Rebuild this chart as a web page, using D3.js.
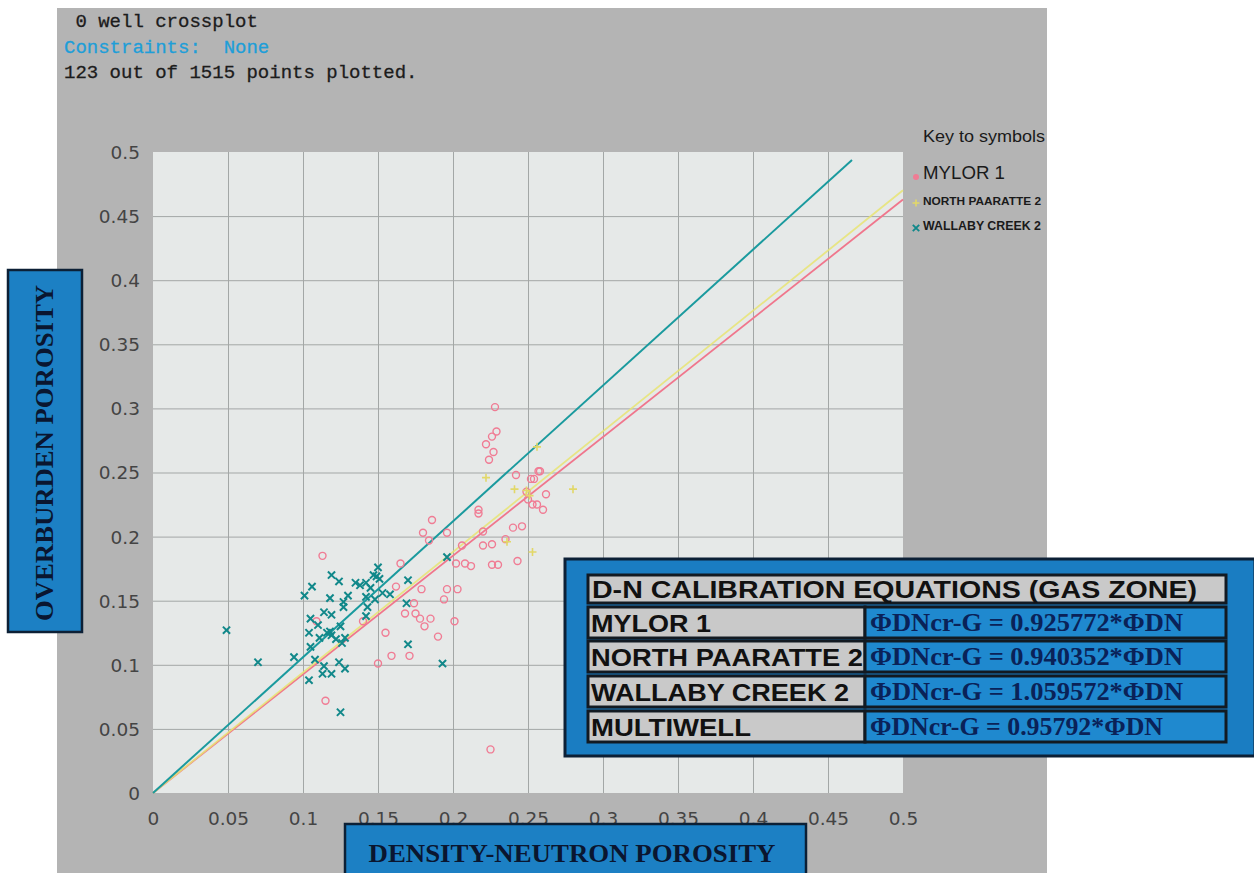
<!DOCTYPE html>
<html>
<head>
<meta charset="utf-8">
<script src="https://cdn.jsdelivr.net/npm/d3@7"></script>
<style>
  html, body { margin: 0; padding: 0; background: #ffffff; }
  svg { display: block; }
</style>
</head>
<body>
<svg id="chart" width="1254" height="873"></svg>
<script>
// ---- data ----
const headerLines = [" 0 well crossplot", "Constraints:  None", "123 out of 1515 points plotted."];

const xTickValues = [0, 0.05, 0.1, 0.15, 0.2, 0.25, 0.3, 0.35, 0.4, 0.45, 0.5];
const xTickLabels = ["0", "0.05", "0.1", "0.15", "0.2", "0.25", "0.3", "0.35", "0.4", "0.45", "0.5"];
const yTickValues = [0, 0.05, 0.1, 0.15, 0.2, 0.25, 0.3, 0.35, 0.4, 0.45, 0.5];
const yTickLabels = ["0", "0.05", "0.1", "0.15", "0.2", "0.25", "0.3", "0.35", "0.4", "0.45", "0.5"];

// density-neutron porosity, overburden porosity
const mylor1 = [
  [0.113,0.185],[0.109,0.134],[0.115,0.072],[0.140,0.134],[0.155,0.125],[0.159,0.107],
  [0.150,0.101],[0.171,0.107],[0.162,0.161],[0.165,0.179],[0.174,0.148],[0.168,0.140],
  [0.175,0.140],[0.178,0.136],[0.185,0.136],[0.181,0.130],[0.190,0.122],[0.179,0.159],
  [0.180,0.203],[0.184,0.197],[0.196,0.203],[0.196,0.159],[0.194,0.151],[0.203,0.159],
  [0.201,0.134],[0.202,0.179],[0.208,0.179],[0.212,0.177],[0.206,0.193],[0.226,0.178],
  [0.230,0.178],[0.243,0.181],[0.225,0.034],[0.228,0.301],[0.229,0.282],[0.226,0.278],
  [0.222,0.272],[0.227,0.266],[0.224,0.260],[0.242,0.248],[0.252,0.245],[0.254,0.245],
  [0.257,0.251],[0.258,0.251],[0.249,0.235],[0.262,0.233],[0.250,0.229],[0.253,0.225],
  [0.256,0.225],[0.260,0.221],[0.217,0.221],[0.217,0.218],[0.186,0.213],[0.220,0.204],
  [0.240,0.207],[0.246,0.208],[0.235,0.198],[0.220,0.193],[0.226,0.194]
];
const northPaaratte2 = [
  [0.256,0.270],[0.222,0.246],[0.241,0.237],[0.280,0.237],[0.249,0.236],[0.251,0.232],
  [0.236,0.196],[0.253,0.188]
];
const wallabyCreek2 = [
  [0.049,0.127],[0.070,0.102],[0.094,0.106],[0.101,0.154],[0.106,0.161],[0.119,0.170],
  [0.124,0.165],[0.118,0.152],[0.127,0.149],[0.127,0.145],[0.130,0.154],[0.114,0.141],
  [0.119,0.139],[0.105,0.136],[0.110,0.131],[0.104,0.125],[0.116,0.125],[0.118,0.126],
  [0.119,0.123],[0.111,0.121],[0.122,0.120],[0.125,0.130],[0.128,0.121],[0.126,0.117],
  [0.105,0.114],[0.108,0.104],[0.114,0.099],[0.113,0.093],[0.119,0.093],[0.124,0.102],
  [0.128,0.097],[0.104,0.088],[0.125,0.063],[0.135,0.164],[0.138,0.162],[0.142,0.164],
  [0.145,0.160],[0.150,0.176],[0.147,0.170],[0.149,0.169],[0.151,0.167],[0.142,0.153],
  [0.148,0.151],[0.153,0.156],[0.158,0.155],[0.143,0.145],[0.142,0.138],[0.170,0.166],
  [0.169,0.148],[0.170,0.116],[0.193,0.101],[0.196,0.184]
];

// calibration equations (gas zone)
const calibWells = ["MYLOR 1", "NORTH PAARATTE 2", "WALLABY CREEK 2", "MULTIWELL"];
const calibSlopes = [0.925772, 0.940352, 1.059572, 0.95792];
// x extent of each drawn calibration line (first three wells)
const fitLineEnds = [0.5, 0.5, 0.466];

const legendNames = ["MYLOR 1", "NORTH PAARATTE 2", "WALLABY CREEK 2"];

// ---- drawing ----
const svg = d3.select("#chart");
const font = "'Liberation Sans', Arial, sans-serif";
const serif = "'Liberation Serif', 'Times New Roman', serif";

const x = d3.scaleLinear().domain([0, 0.5]).range([153, 903]);
const y = d3.scaleLinear().domain([0, 0.5]).range([793, 152]);

// grey panel
svg.append("rect").attr("x", 57).attr("y", 8).attr("width", 990).attr("height", 880)
  .attr("fill", "#b4b4b4");

// header text
const hdrColors = ["#1c1c1c", "#1e9ed8", "#1c1c1c"];
svg.append("g").selectAll("text").data(headerLines).join("text")
  .attr("x", 64).attr("y", (d, i) => 27 + i * 25.5)
  .attr("font-family", "'Liberation Mono', 'Courier New', monospace")
  .attr("font-size", 19)
  .attr("fill", (d, i) => hdrColors[i])
  .attr("stroke", (d, i) => hdrColors[i]).attr("stroke-width", 0.3)
  .attr("xml:space", "preserve")
  .style("white-space", "pre")
  .text(d => d);

// plot background
svg.append("rect")
  .attr("x", x(0)).attr("y", y(0.5))
  .attr("width", x(0.5) - x(0)).attr("height", y(0) - y(0.5))
  .attr("fill", "#e6e9e8");

// grid
const gridStyle = g => {
  g.select(".domain").remove();
  g.selectAll("line").attr("stroke", "#a3a7a6").attr("stroke-width", 1);
  g.selectAll("text").remove();
};
svg.append("g").attr("transform", `translate(0,${y(0)})`)
  .call(d3.axisBottom(x).tickValues(xTickValues.slice(1, -1)).tickSize(-(y(0) - y(0.5))))
  .call(gridStyle);
svg.append("g").attr("transform", `translate(${x(0)},0)`)
  .call(d3.axisLeft(y).tickValues(yTickValues.slice(1, -1)).tickSize(-(x(0.5) - x(0))))
  .call(gridStyle);

// tick labels
const tickFont = g => {
  g.select(".domain").remove();
  g.selectAll("line").remove();
  g.selectAll("text")
    .attr("font-family", "'DejaVu Sans', sans-serif")
    .attr("font-size", 18.5)
    .attr("fill", "#444444");
};
svg.append("g").attr("transform", `translate(0,${y(0)})`)
  .call(d3.axisBottom(x).tickValues(xTickValues).tickSize(0).tickPadding(0)
    .tickFormat((d, i) => xTickLabels[i]))
  .call(tickFont)
  .selectAll("text").attr("dy", null).attr("y", 32);
svg.append("g").attr("transform", `translate(140,0)`)
  .call(d3.axisLeft(y).tickValues(yTickValues).tickSize(0).tickPadding(0)
    .tickFormat((d, i) => yTickLabels[i]))
  .call(tickFont)
  .selectAll("text").attr("dy", "0.35em");

// calibration lines
const lineColors = ["#f0768c", "#e8e472", "#1a9a9e"];
[0, 1, 2].forEach(i => {
  const pts = [[0, 0], [fitLineEnds[i], fitLineEnds[i] * calibSlopes[i]]];
  svg.append("path")
    .attr("d", d3.line().x(d => x(d[0])).y(d => y(d[1]))(pts))
    .attr("fill", "none")
    .attr("stroke", lineColors[i])
    .attr("stroke-width", i === 2 ? 2 : 1.8)
    .attr("stroke-opacity", i === 1 ? 0.85 : 1);
});

// markers
const pink = "#f07c94", yellow = "#e2d868", teal = "#11888a";
svg.append("g").selectAll("circle").data(mylor1).join("circle")
  .attr("cx", d => x(d[0])).attr("cy", d => y(d[1])).attr("r", 3.5)
  .attr("fill", "none").attr("stroke", pink).attr("stroke-width", 1.4);

const plusPath = (cx, cy, s) => `M${cx - s},${cy}H${cx + s}M${cx},${cy - s}V${cy + s}`;
const crossPath = (cx, cy, s) => `M${cx - s},${cy - s}L${cx + s},${cy + s}M${cx - s},${cy + s}L${cx + s},${cy - s}`;

svg.append("g").selectAll("path").data(northPaaratte2).join("path")
  .attr("d", d => plusPath(x(d[0]), y(d[1]), 4))
  .attr("stroke", yellow).attr("stroke-width", 1.6).attr("fill", "none");

svg.append("g").selectAll("path").data(wallabyCreek2).join("path")
  .attr("d", d => crossPath(x(d[0]), y(d[1]), 3.6))
  .attr("stroke", teal).attr("stroke-width", 2).attr("fill", "none");

// legend
const leg = svg.append("g");
leg.append("text").attr("x", 923).attr("y", 142)
  .attr("font-family", font).attr("font-size", 16).attr("fill", "#1a1a1a")
  .attr("textLength", 122).attr("lengthAdjust", "spacingAndGlyphs")
  .text("Key to symbols");
const legY = [179, 205, 230];
const legSize = [18, 11.5, 12.5];
const legWidth = [82, 118, 118];
const legWeight = ["normal", "bold", "bold"];
legendNames.forEach((name, i) => {
  leg.append("text").attr("x", 923).attr("y", legY[i])
    .attr("font-family", font).attr("font-size", legSize[i]).attr("font-weight", legWeight[i])
    .attr("fill", "#1a1a1a")
    .attr("textLength", legWidth[i]).attr("lengthAdjust", "spacingAndGlyphs")
    .text(name);
});
leg.append("circle").attr("cx", 916).attr("cy", 177).attr("r", 3).attr("fill", pink);
leg.append("path").attr("d", plusPath(916, 203, 3.5)).attr("stroke", yellow).attr("stroke-width", 1.6);
leg.append("path").attr("d", crossPath(916, 228, 3.2)).attr("stroke", teal).attr("stroke-width", 1.9);

// axis title boxes
const boxBlue = "#1c80c4", boxEdge = "#0c2036", titleInk = "#0a1630";
svg.append("rect").attr("x", 8).attr("y", 270).attr("width", 74).attr("height", 362)
  .attr("fill", boxBlue).attr("stroke", boxEdge).attr("stroke-width", 2.5);
svg.append("text")
  .attr("transform", "translate(53,453) rotate(-90)")
  .attr("text-anchor", "middle")
  .attr("font-family", serif).attr("font-weight", "bold").attr("font-size", 26)
  .attr("fill", titleInk)
  .attr("textLength", 336).attr("lengthAdjust", "spacingAndGlyphs")
  .text("OVERBURDEN POROSITY");

svg.append("rect").attr("x", 345).attr("y", 824).attr("width", 461).attr("height", 60)
  .attr("fill", boxBlue).attr("stroke", boxEdge).attr("stroke-width", 2.5);
svg.append("text")
  .attr("x", 572).attr("y", 862)
  .attr("text-anchor", "middle")
  .attr("font-family", serif).attr("font-weight", "bold").attr("font-size", 25)
  .attr("fill", titleInk)
  .attr("textLength", 407).attr("lengthAdjust", "spacingAndGlyphs")
  .text("DENSITY-NEUTRON POROSITY");

// calibration equation table
const tbl = svg.append("g");
tbl.append("rect").attr("x", 565).attr("y", 559).attr("width", 690).attr("height", 197)
  .attr("fill", "#1a7dc2").attr("stroke", boxEdge).attr("stroke-width", 3);
const cellEdge = "#121a22", greyCell = "#c9c9c9", blueCell = "#1f89cf";
tbl.append("rect").attr("x", 588).attr("y", 575).attr("width", 638).attr("height", 28)
  .attr("fill", greyCell).attr("stroke", cellEdge).attr("stroke-width", 3);
tbl.append("text").attr("x", 592).attr("y", 598)
  .attr("font-family", font).attr("font-weight", "bold").attr("font-size", 24).attr("fill", "#111")
  .attr("textLength", 605).attr("lengthAdjust", "spacingAndGlyphs")
  .text("D-N CALIBRATION EQUATIONS (GAS ZONE)");
const rowTop = [607, 641, 676, 711];
const rowH = 31;
const leftW = [120, 272, 258, 160];
calibWells.forEach((w, i) => {
  tbl.append("rect").attr("x", 588).attr("y", rowTop[i]).attr("width", 277).attr("height", rowH)
    .attr("fill", greyCell).attr("stroke", cellEdge).attr("stroke-width", 3);
  tbl.append("rect").attr("x", 865).attr("y", rowTop[i]).attr("width", 361).attr("height", rowH)
    .attr("fill", blueCell).attr("stroke", cellEdge).attr("stroke-width", 3);
  tbl.append("text").attr("x", 591).attr("y", rowTop[i] + 25)
    .attr("font-family", font).attr("font-weight", "bold").attr("font-size", 24).attr("fill", "#111")
    .attr("textLength", leftW[i]).attr("lengthAdjust", "spacingAndGlyphs")
    .text(w);
  const eq = `ΦDNcr-G = ${calibSlopes[i]}*ΦDN`;
  tbl.append("text").attr("x", 870).attr("y", rowTop[i] + 24)
    .attr("font-family", serif).attr("font-weight", "bold").attr("font-size", 25).attr("fill", "#0a2258")
    .attr("textLength", i === 3 ? 293 : 313).attr("lengthAdjust", "spacingAndGlyphs")
    .text(eq);
});
</script>
</body>
</html>
